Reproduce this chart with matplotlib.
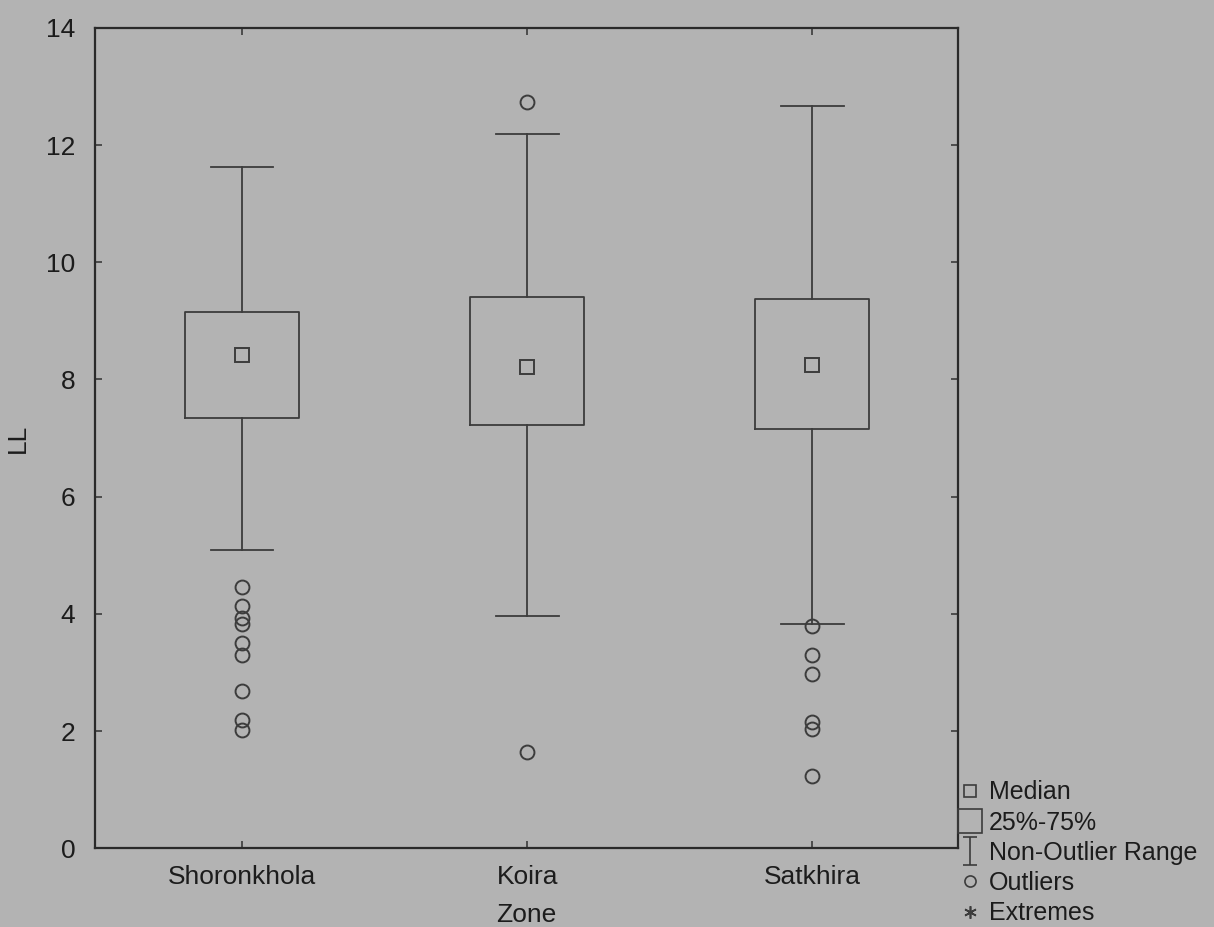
import numpy as np
import matplotlib.pyplot as plt
from matplotlib.lines import Line2D
from matplotlib.path import Path

plt.rcParams['font.family'] = ['Liberation Sans', 'DejaVu Sans']

zones = ["Shoronkhola", "Koira", "Satkhira"]
medians = [8.42, 8.21, 8.25]
q1 = [7.34, 7.22, 7.16]
q3 = [9.15, 9.40, 9.37]
whisk_lo = [5.09, 3.97, 3.83]
whisk_hi = [11.63, 12.18, 12.67]
outliers = [
    [4.45, 4.14, 3.92, 3.83, 3.51, 3.29, 2.69, 2.18, 2.01],
    [12.74, 1.64],
    [3.80, 3.30, 2.98, 2.15, 2.03, 1.24],
]

bg = "#b3b3b3"
ink = "#3c3c3c"
txt = "#1c1c1c"

fig = plt.figure(figsize=(12.14, 9.27), dpi=100, facecolor=bg)
ax = fig.add_axes([0.078, 0.085, 0.711, 0.885], facecolor=bg)

stats = []
for i in range(len(zones)):
    stats.append(dict(med=medians[i], q1=q1[i], q3=q3[i],
                      whislo=whisk_lo[i], whishi=whisk_hi[i],
                      fliers=outliers[i], label=zones[i]))

pos = np.arange(1, len(zones) + 1)
ax.bxp(stats, positions=pos, widths=0.40, showfliers=True,
       boxprops=dict(color=ink, linewidth=1.3),
       whiskerprops=dict(color=ink, linewidth=1.3),
       capprops=dict(color=ink, linewidth=1.3),
       capwidths=0.22,
       medianprops=dict(visible=False),
       flierprops=dict(marker='o', markersize=10, markerfacecolor='none',
                       markeredgecolor=ink, markeredgewidth=1.4))
ax.plot(pos, medians, 's', markersize=10, markerfacecolor='none',
        markeredgecolor=ink, markeredgewidth=1.4, linestyle='none')

ax.set_xlim(0.483, 3.51)
ax.set_ylim(0, 14)
ax.set_yticks(np.arange(0, 15, 2))
ax.set_xticks(pos)
ax.set_xticklabels(zones)
ax.tick_params(direction='in', length=5, width=1.2, color=ink,
               labelsize=19, labelcolor=txt, top=True, right=True)
ax.tick_params(axis='y', pad=14)
ax.tick_params(axis='x', pad=12)
for s in ax.spines.values():
    s.set_color("#2a2a2a")
    s.set_linewidth(1.6)

ax.set_ylabel("LL", fontsize=19, color=txt)
ax.yaxis.set_label_coords(-0.075, 0.5)
ax.set_xlabel("Zone", fontsize=19, color=txt, labelpad=10)

# whisker-range glyph for the legend
range_glyph = Path([(-0.5, 1), (0.5, 1), (0, 1), (0, -1), (-0.5, -1), (0.5, -1)],
                   [Path.MOVETO, Path.LINETO, Path.MOVETO, Path.LINETO,
                    Path.MOVETO, Path.LINETO])

handles = [
    Line2D([], [], marker='s', markersize=8, mfc='none', mec=ink, mew=1.2, ls='none'),
    Line2D([], [], marker='s', markersize=17, mfc='none', mec=ink, mew=1.2, ls='none'),
    Line2D([], [], marker=range_glyph, markersize=20, mfc='none', mec=ink, mew=1.2, ls='none'),
    Line2D([], [], marker='o', markersize=8, mfc='none', mec=ink, mew=1.2, ls='none'),
    Line2D([], [], marker=(6, 2, 0), markersize=9, mfc='none', mec=ink, mew=1.2, ls='none'),
]
labels = ["Median", "25%-75%", "Non-Outlier Range", "Outliers", "Extremes"]
fig.legend(handles, labels, loc='lower left', bbox_to_anchor=(0.7755, -0.017),
           frameon=False, fontsize=18, labelcolor=txt, handlelength=0.9,
           handletextpad=0.3, labelspacing=0.25, borderpad=0.2)

fig.savefig("out.png", dpi=100, facecolor=bg)
